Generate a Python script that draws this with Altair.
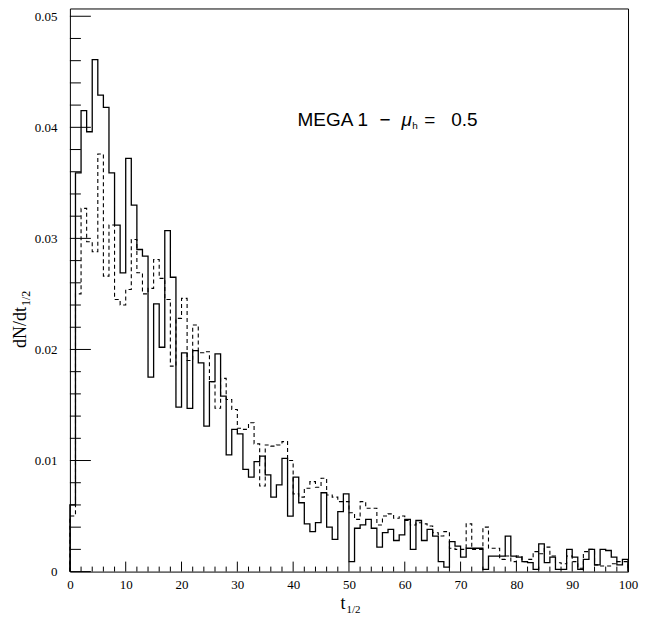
import altair as alt
import pandas as pd

# ---- data ----
bin_left = list(range(100))

solid_vals = [
    0.0060, 0.0359, 0.0415, 0.0396, 0.0461, 0.0429, 0.0418, 0.0359, 0.0312, 0.0269,
    0.0372, 0.0330, 0.0290, 0.0284, 0.0175, 0.0241, 0.0202, 0.0307, 0.0265, 0.0148,
    0.0197, 0.0147, 0.0199, 0.0188, 0.0131, 0.0171, 0.0196, 0.0158, 0.0105, 0.0128,
    0.0124, 0.0092, 0.0085, 0.0099, 0.0104, 0.0087, 0.0067, 0.0078, 0.0102, 0.0050,
    0.0085, 0.0062, 0.0043, 0.0036, 0.0044, 0.0071, 0.0040, 0.0029, 0.0054, 0.0070,
    0.0009, 0.0039, 0.0042, 0.0047, 0.0039, 0.0022, 0.0035, 0.0038, 0.0028, 0.0033,
    0.0047, 0.0020, 0.0046, 0.0028, 0.0038, 0.0032, 0.0009, 0.0004, 0.0027, 0.0023,
    0.0013, 0.0021, 0.0021, 0.0021, 0.0002, 0.0014, 0.0014, 0.0014, 0.0032, 0.0014,
    0.0013, 0.0009, 0.0008, 0.0002, 0.0025, 0.0008, 0.0013, 0.0002, 0.0002, 0.0020,
    0.0013, 0.0002, 0.0011, 0.0020, 0.0006, 0.0020, 0.0019, 0.0013, 0.0006, 0.0011,
]

dashed_vals = [
    0.0050, 0.0250, 0.0327, 0.0297, 0.0288, 0.0376, 0.0266, 0.0312, 0.0245, 0.0240,
    0.0254, 0.0299, 0.0269, 0.0250, 0.0255, 0.0281, 0.0264, 0.0245, 0.0185, 0.0228,
    0.0246, 0.0190, 0.0222, 0.0197, 0.0198, 0.0171, 0.0147, 0.0174, 0.0155, 0.0146,
    0.0129, 0.0128, 0.0134, 0.0115, 0.0077, 0.0114, 0.0113, 0.0114, 0.0117, 0.0100,
    0.0070, 0.0067, 0.0075, 0.0081, 0.0076, 0.0084, 0.0069, 0.0067, 0.0063, 0.0063,
    0.0053, 0.0047, 0.0063, 0.0057, 0.0057, 0.0042, 0.0050, 0.0052, 0.0048, 0.0050,
    0.0046, 0.0042, 0.0044, 0.0043, 0.0041, 0.0035, 0.0032, 0.0036, 0.0021, 0.0020,
    0.0020, 0.0043, 0.0020, 0.0020, 0.0040, 0.0021, 0.0021, 0.0011, 0.0014, 0.0009,
    0.0014, 0.0009, 0.0011, 0.0018, 0.0016, 0.0022, 0.0014, 0.0008, 0.0007, 0.0014,
    0.0009, 0.0003, 0.0018, 0.0020, 0.0006, 0.0005, 0.0005, 0.0007, 0.0009, 0.0009,
]

x_major = [0, 10, 20, 30, 40, 50, 60, 70, 80, 90, 100]
x_minor = [2, 4, 6, 8, 12, 14, 16, 18, 22, 24, 26, 28, 32, 34, 36, 38, 42, 44, 46, 48,
           52, 54, 56, 58, 62, 64, 66, 68, 72, 74, 76, 78, 82, 84, 86, 88, 92, 94, 96, 98]
y_major = [0, 0.01, 0.02, 0.03, 0.04, 0.05]
y_minor = [0.002, 0.004, 0.006, 0.008, 0.012, 0.014, 0.016, 0.018, 0.022, 0.024, 0.026,
           0.028, 0.032, 0.034, 0.036, 0.038, 0.042, 0.044, 0.046, 0.048]

W, H = 559, 564
SERIF = "Liberation Serif"
SANS = "Liberation Sans"

xscale = alt.Scale(domain=[0, 100], nice=False, zero=False)
yscale = alt.Scale(domain=[0, 0.0507], nice=False, zero=True)


def step_table(vals):
    t = [0] + bin_left + [100, 100]
    v = [0.0] + vals + [vals[-1], 0.0]
    return pd.DataFrame({"t": t, "v": v, "idx": list(range(len(t)))})


x_axis = alt.Axis(values=x_major, format="d", tickSize=0, domain=False, grid=False,
                  labelFont=SERIF, labelFontSize=13, labelPadding=7, labelColor="black",
                  labelFlush=False, labelOverlap=False, title=None)
y_axis = alt.Axis(values=y_major, format="~g", tickSize=0, domain=False, grid=False,
                  labelFont=SERIF, labelFontSize=13, labelPadding=13, labelColor="black",
                  labelFlush=False, labelOverlap=False, title=None)

X = lambda f: alt.X(f, scale=xscale, axis=x_axis)
Y = lambda f: alt.Y(f, scale=yscale, axis=y_axis)

solid = alt.Chart(step_table(solid_vals)).mark_line(
    interpolate="step-after", color="black", strokeWidth=1.3
).encode(x=X("t:Q"), y=Y("v:Q"), order="idx:Q")

dashed = alt.Chart(step_table(dashed_vals)).mark_line(
    interpolate="step-after", color="black", strokeWidth=1.1, strokeDash=[4, 3]
).encode(x=X("t:Q"), y=Y("v:Q"), order="idx:Q")

# inward ticks
xt_major = alt.Chart(pd.DataFrame({"t": x_major})).mark_rule(color="black", strokeWidth=1).encode(
    x=X("t:Q"), y=alt.value(H), y2=alt.value(H - 10))
xt_minor = alt.Chart(pd.DataFrame({"t": x_minor})).mark_rule(color="black", strokeWidth=1).encode(
    x=X("t:Q"), y=alt.value(H), y2=alt.value(H - 5))
yt_major = alt.Chart(pd.DataFrame({"v": y_major})).mark_rule(color="black", strokeWidth=1).encode(
    y=Y("v:Q"), x=alt.value(0), x2=alt.value(21))
yt_minor = alt.Chart(pd.DataFrame({"v": y_minor})).mark_rule(color="black", strokeWidth=1).encode(
    y=Y("v:Q"), x=alt.value(0), x2=alt.value(11))


def label(text, x, y, size, font=SANS, style="normal", angle=0, align="left"):
    return alt.Chart(pd.DataFrame({"s": [text]})).mark_text(
        align=align, baseline="alphabetic", font=font, fontSize=size,
        fontStyle=style, angle=angle, color="black"
    ).encode(x=alt.value(x), y=alt.value(y), text="s:N")


annot = [
    label("MEGA 1", 228, 118, 19),
    label("\u2212", 310, 118, 19),
    label("\u03bc", 332, 118, 19, style="italic"),
    label("h", 343, 121, 10),
    label("=", 355, 118, 19),
    label("0.5", 382, 118, 19),
    # axis titles with subscripts
    label("t", 271, 601, 18, font=SERIF),
    label("1/2", 277, 605, 11, font=SERIF),
    label("dN/dt", -44, 340, 18, font=SERIF, angle=270),
    label("1/2", -40, 298, 12, font=SERIF, angle=270),
]

chart = alt.layer(solid, dashed, xt_major, xt_minor, yt_major, yt_minor, *annot).properties(
    width=W, height=H,
    background="white",
    autosize=alt.AutoSizeParams(type="none"),
    padding={"left": 62, "top": 0, "right": 12, "bottom": 42},
).configure_view(stroke="black", strokeWidth=1)

chart.save("out.html", embed_options={"renderer": "svg", "actions": False})
